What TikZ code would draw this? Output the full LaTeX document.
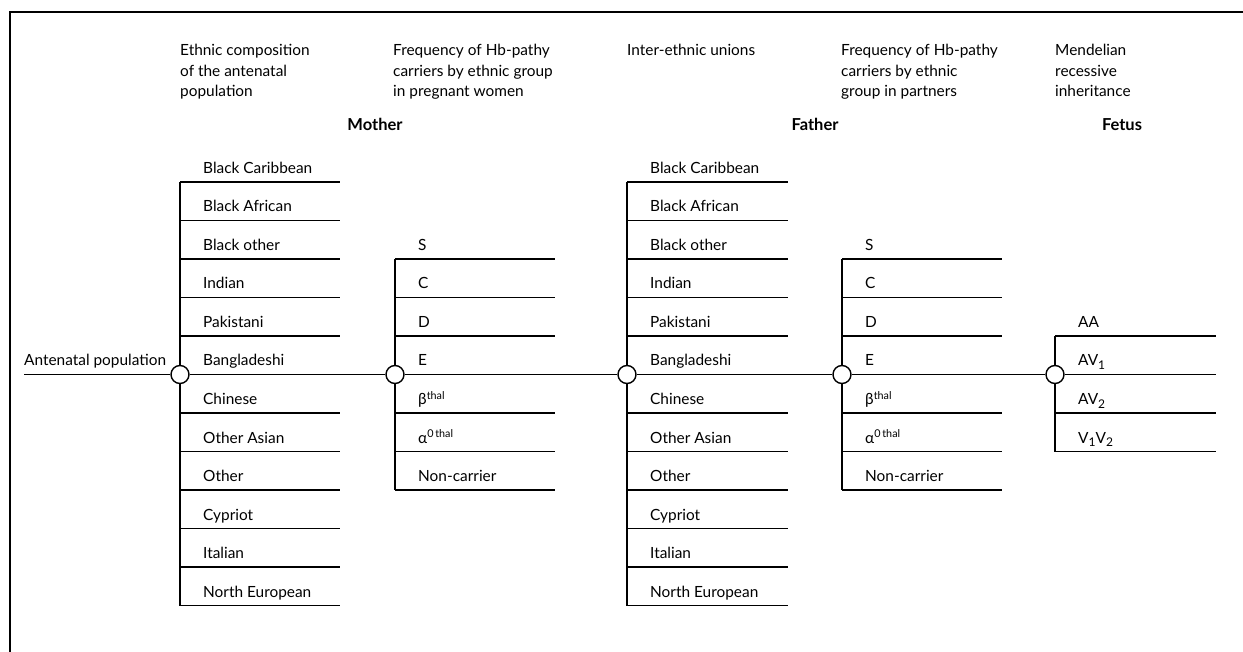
\documentclass[tikz,border=0pt]{standalone}
\usepackage{fontspec}
\setmainfont{Lato}
\newcommand{\lowsub}[1]{\raisebox{-0.5ex}{\fontsize{12}{12}\selectfont #1}}
\begin{document}
\begin{tikzpicture}[x=1pt,y=-1pt,
  lbl/.style={anchor=base west, inner sep=0pt, font=\fontsize{15.4}{17}\selectfont},
  hdr/.style={anchor=north west, inner sep=0pt, align=left, font=\fontsize{15.4}{20.5}\selectfont},
  ttl/.style={anchor=base, inner sep=0pt, font=\bfseries\fontsize{16.5}{18}\selectfont},
  dot/.style={circle, draw, fill=white, minimum size=18pt, inner sep=0pt, line width=1.4pt},
  ln/.style={line width=1.6pt},
  frame/.style={line width=1.8pt}]
\useasboundingbox (0,0) rectangle (1243,652);
\draw[frame] (1243,12) -- (10,12) -- (10,652);

% headers
\node[hdr] (h1) at (180,44) {Ethnic composition\\of the antenatal\\population};
\node[hdr] (h2) at (393,44) {Frequency of Hb-pathy\\carriers by ethnic group\\in pregnant women};
\node[hdr] (h3) at (627,44) {Inter-ethnic unions};
\node[hdr] (h4) at (841,44) {Frequency of Hb-pathy\\carriers by ethnic\\group in partners};
\node[hdr] (h5) at (1055,44) {Mendelian\\recessive\\inheritance};
\node[ttl] (mother) at (375,131) {Mother};
\node[ttl] (father) at (815,131) {Father};
\node[ttl] (fetus) at (1122,131) {Fetus};

% junction circles
\node[dot] (c1) at (180,374.5) {};
\node[dot] (c2) at (395,374.5) {};
\node[dot] (c3) at (627,374.5) {};
\node[dot] (c4) at (842,374.5) {};
\node[dot] (c5) at (1055,374.5) {};
\coordinate (start) at (24,374.5);
\coordinate (end) at (1216,374.5);
\node[lbl] (pop) at (24,365.5) {Antenatal population};
\draw[ln] (start) -- (c1) -- (c2) -- (c3) -- (c4) -- (c5) -- (end);

% ethnic groups (mother and father)
\foreach \g/\xa/\xb in {1/180/340, 3/627/788} {
  \foreach \t [count=\i from 0] in {Black Caribbean, Black African, Black other, Indian, Pakistani, Bangladeshi, Chinese, Other Asian, Other, Cypriot, Italian, North European} {
    \pgfmathsetmacro\yy{182+38.5*\i}
    \node[lbl] (e\g r\i) at (\xa+23,\yy-8.5) {\t};
    \coordinate (e\g a\i) at (\xa,\yy);
    \coordinate (e\g b\i) at (\xb,\yy);
    \ifnum\i=5\relax\else\draw[ln] (e\g a\i) -- (e\g b\i);\fi
  }
  \draw[ln] (e\g a0) -- (c\g) -- (e\g a11);
}

% carrier groups
\foreach \g/\xa/\xb in {2/395/555, 4/842/1002} {
  \foreach \t [count=\i from 2] in {S, C, D, E, β\textsuperscript{thal}, α\textsuperscript{0\,thal}, Non-carrier} {
    \pgfmathsetmacro\yy{182+38.5*\i}
    \node[lbl] (k\g r\i) at (\xa+23,\yy-8.5) {\t};
    \coordinate (k\g a\i) at (\xa,\yy);
    \coordinate (k\g b\i) at (\xb,\yy);
    \ifnum\i=5\relax\else\draw[ln] (k\g a\i) -- (k\g b\i);\fi
  }
  \draw[ln] (k\g a2) -- (c\g) -- (k\g a8);
}

% fetus
\foreach \t [count=\i from 4] in {AA, AV\lowsub{1}, AV\lowsub{2}, V\lowsub{1}V\lowsub{2}} {
  \pgfmathsetmacro\yy{182+38.5*\i}
  \node[lbl] (f\i) at (1078,\yy-8.5) {\t};
  \coordinate (fa\i) at (1055,\yy);
  \coordinate (fb\i) at (1216,\yy);
  \ifnum\i=5\relax\else\draw[ln] (fa\i) -- (fb\i);\fi
}
\draw[ln] (fa4) -- (c5) -- (fa7);
\end{tikzpicture}
\end{document}
